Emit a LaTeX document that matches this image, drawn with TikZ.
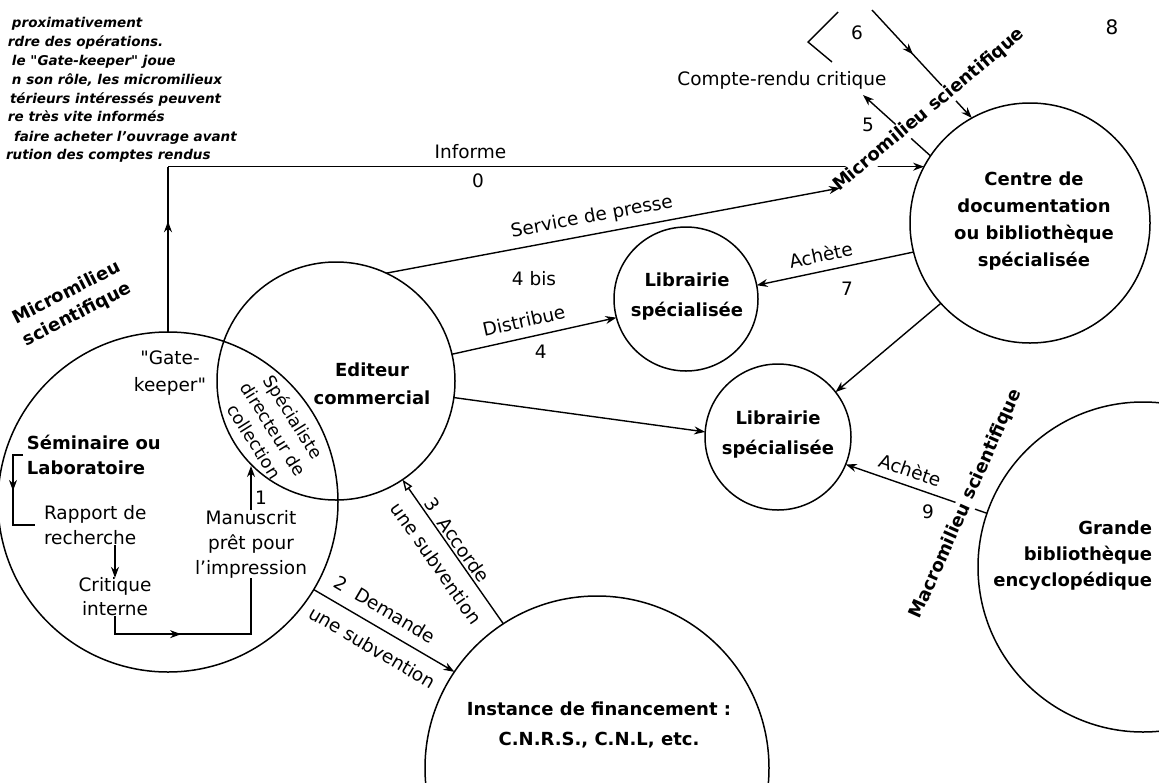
\documentclass[tikz,border=0pt]{standalone}
\usepackage{fontspec}
\setmainfont{DejaVu Sans}
\usetikzlibrary{arrows.meta,decorations.markings}
\begin{document}
\begin{tikzpicture}[x=1pt,y=-1pt,
  >={Stealth[length=11pt,width=8pt]},
  every node/.style={inner sep=0pt, outer sep=0pt},
  circ/.style={circle, draw, line width=1.5pt, inner sep=0pt},
  lbl/.style={font=\fontsize{18}{27}\selectfont\bfseries, align=center},
  txt/.style={font=\fontsize{18.5}{25}\selectfont, align=center},
  note/.style={font=\fontsize{13.5}{18}\selectfont\bfseries\itshape, anchor=base west},
  conn/.style={line width=1.4pt},
  arr/.style={conn, ->},
  rarr/.style={conn, <-},
  midarr/.style={postaction={decorate}, decoration={markings, mark=at position #1 with {\arrow{>}}}},
  mask/.style={fill=white, inner sep=1.5pt}
]
\useasboundingbox (0,0) rectangle (1159,782);
\clip (0,0) rectangle (1159,782);

% circles
\node[circ, minimum size=340pt] (sem) at (168,502) {};
\node[circ, minimum size=238pt] (ed) at (336,381) {};
\node[circ, minimum size=144pt] (lib1) at (686,299) {};
\node[circ, minimum size=146pt] (lib2) at (778,437) {};
\node[circ, minimum size=240pt] (cdoc) at (1030,223) {};
\node[circ, minimum size=330pt] (gb) at (1143,567) {};
\node[circ, minimum size=344pt] (inst) at (597,768) {};

% circle texts
\node[txt, font=\fontsize{18.5}{27}\selectfont] (gk) at (170,373) {\textquotedbl Gate-\\keeper\textquotedbl};
\node[lbl, align=left, anchor=west, font=\fontsize{18}{25}\selectfont\bfseries] (semlab) at (27,455) {Séminaire ou\\Laboratoire};
\node[txt, align=left, anchor=west] (rap) at (44,525) {Rapport de\\recherche};
\node[txt, font=\fontsize{18.5}{24}\selectfont] (ci) at (115,597) {Critique\\interne};
\node[txt] (ms) at (251,544) {Manuscrit\\prêt pour\\l'impression};
\node[txt, rotate=-58, font=\fontsize{17.5}{23}\selectfont] (spec) at (274,429) {Spécialiste\\directeur de\\collection};
\node[lbl, font=\fontsize{18}{28}\selectfont\bfseries] (edt) at (372,384) {Editeur\\commercial};
\node[lbl, font=\fontsize{18}{30}\selectfont\bfseries] (lib1t) at (687,297) {Librairie\\spécialisée};
\node[lbl, font=\fontsize{18}{30}\selectfont\bfseries] (lib2t) at (778,435) {Librairie\\spécialisée};
\node[lbl] (cdoct) at (1034,221) {Centre de\\documentation\\ou bibliothèque\\spécialisée};
\node[lbl, align=right, anchor=east, font=\fontsize{18}{26}\selectfont\bfseries] (gbt) at (1152,556) {Grande\\bibliothèque\\encyclopédique};
\node[lbl, font=\fontsize{18}{30}\selectfont\bfseries] (instt) at (599,725) {Instance de financement :\\C.N.R.S., C.N.L, etc.};
\node[txt] (cr) at (782,80) {Compte-rendu critique};
\node[lbl, rotate=27, font=\fontsize{18}{24}\selectfont\bfseries] (msl) at (72,304) {Micromilieu\\scientifique};

% inner connectors of the left circle
\draw[conn, midarr=0.45] ([xshift=-4pt]semlab.west) -- ++(-10,0) |- ([xshift=-9pt]rap.west);
\draw[arr] (ci.north |- rap.south) -- (ci.north);
\draw[conn, midarr=0.4] (ci.south) -- ++(0,18) -| (ms.south);
\coordinate (one) at (251,466);
\draw[arr] (ms.north) -- (one);
\node[txt] (n1) at (261,498) {1};

% Informe
\coordinate (infc) at (sem.north |- cdoc.152.7);
\draw[conn, midarr=0.67] (sem.north) -- (infc);
\draw[arr] (infc) -- (cdoc.152.7)
  node[pos=0.4, above=8pt, txt] (informe) {Informe}
  node[pos=0.41, below=7pt, txt] (zero) {0};

% Distribue
\draw[arr] (ed.13) -- (lib1.195)
  node[pos=0.46, sloped, above=10pt, txt] (distr) {Distribue}
  node[pos=0.54, below=11pt, txt] (four) {4};
\node[txt] (fourbis) at (534,279) {4 bis};

% Editeur -> Librairie 2
\draw[arr] (ed.-8) -- (lib2.176);

% Accorde
\draw[conn, {Triangle[open,length=11pt,width=8pt]}-] (ed.-56) -- (inst.123)
  node[pos=0.46, sloped, above=3pt, txt] (acc) {3\ \ Accorde}
  node[pos=0.5, sloped, below=13pt, txt] (us1) {une subvention};

% Demande
\draw[arr] (sem.-31) -- (inst.146)
  node[pos=0.44, sloped, above=12pt, txt] (dem) {2\ \ Demande}
  node[pos=0.49, sloped, below=13pt, txt] (us2) {une subvention};

% Achete 7
\draw[rarr] (lib1.11) -- (cdoc.194)
  node[pos=0.43, sloped, above=9pt, txt] (ach7) {Achète};
\node[txt] (n7) at (847,289) {7};

% Centre -> Librairie 2
\draw[arr] (cdoc.222) -- (lib2.38);

% Achete 9
\draw[rarr] (lib2.-22) -- (gb.161)
  node[pos=0.42, sloped, above=8pt, txt] (ach9) {Achète};
\node[txt] (n9) at (928,512) {9};

% Compte-rendu 5 and 6
\coordinate (c5) at (863,95);
\draw[arr] (cdoc.146) -- (c5);
\node[txt] (n5) at (868,125) {5};
\coordinate (c6) at (872,10);
\draw[arr, midarr=0.41] (c6) -- (cdoc.119);
\draw[conn] (838,12) -- (808,42) -- (832,62);
\node[txt] (n6) at (857,33) {6};
\node[txt, font=\fontsize{20}{24}\selectfont] (n8) at (1112,27) {8};

% masking labels
\node[lbl, rotate=40, mask] (mscd) at (929,110) {Micromilieu scientifique};
\node[lbl, rotate=66, mask] (macro) at (966,504) {Macromilieu scientifique};

% Service de presse
\coordinate (spend) at (840,188);
\draw[arr] (ed.65) -- (spend)
  node[pos=0.46, sloped, above=8pt, txt] (sdp) {Service de presse};

% notes top left
\node[note] (t1) at (12,27) {proximativement};
\node[note] (t2) at (8,46) {rdre des opérations.};
\node[note] (t3) at (12,65) {le \textquotedbl Gate-keeper\textquotedbl{} joue};
\node[note] (t4) at (12,84) {n son rôle, les micromilieux};
\node[note] (t5) at (10,103) {térieurs intéressés peuvent};
\node[note] (t6) at (8,121) {re très vite informés};
\node[note] (t7) at (14,141) {faire acheter l'ouvrage avant};
\node[note] (t8) at (6,159) {rution des comptes rendus};
\end{tikzpicture}
\end{document}
